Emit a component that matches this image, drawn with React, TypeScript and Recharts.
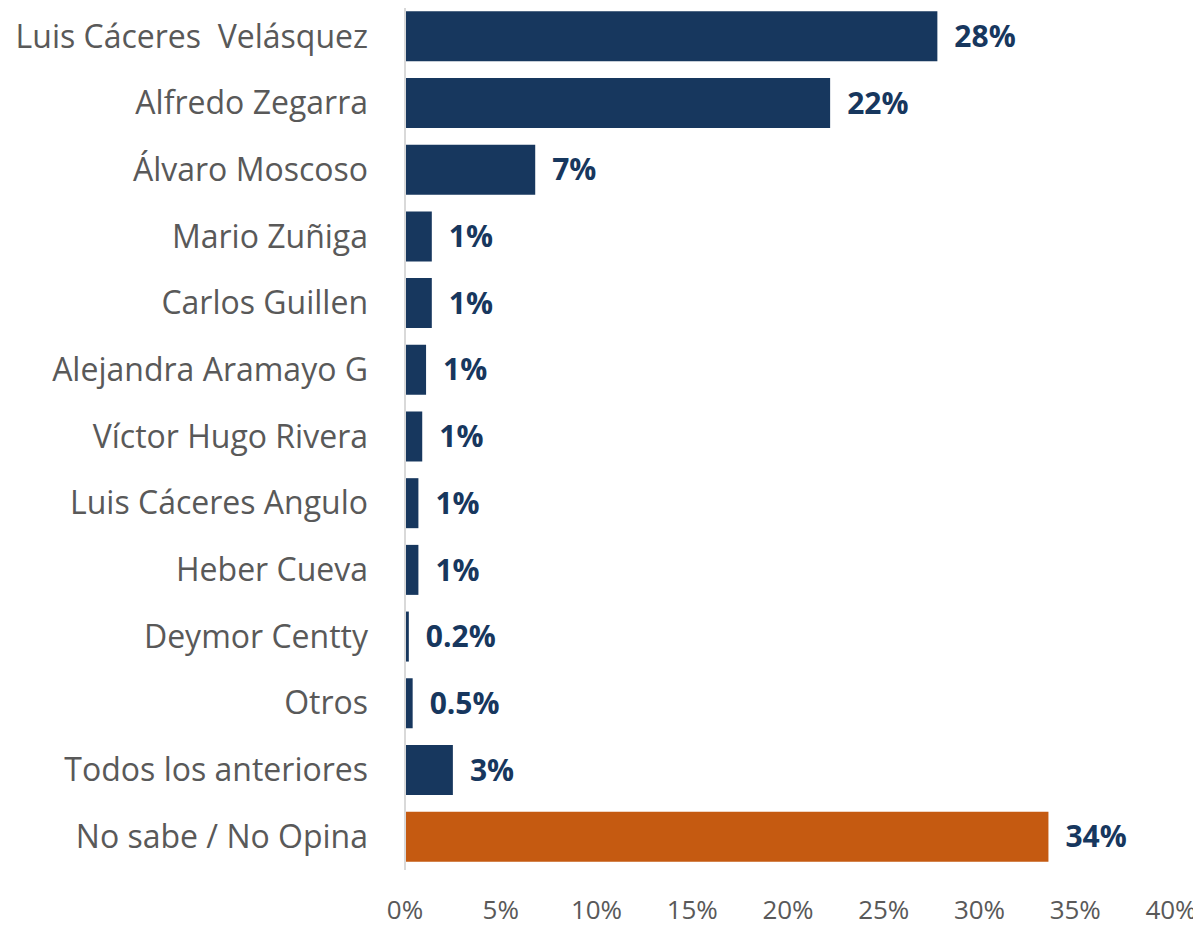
import { Bar, BarChart, Cell, LabelList, XAxis, YAxis } from "recharts";

const candidates = [
  "Luis Cáceres  Velásquez",
  "Alfredo Zegarra",
  "Álvaro Moscoso",
  "Mario Zuñiga",
  "Carlos Guillen",
  "Alejandra Aramayo G",
  "Víctor Hugo Rivera",
  "Luis Cáceres Angulo",
  "Heber Cueva",
  "Deymor Centty",
  "Otros",
  "Todos los anteriores",
  "No sabe / No Opina",
];

const shares = [27.8, 22.2, 6.8, 1.4, 1.4, 1.1, 0.9, 0.7, 0.7, 0.2, 0.4, 2.5, 33.6];

const shareLabels = ["28%", "22%", "7%", "1%", "1%", "1%", "1%", "1%", "1%", "0.2%", "0.5%", "3%", "34%"];

const xTicks = [0, 5, 10, 15, 20, 25, 30, 35, 40];

const colors = {
  navy: "#17375E",
  orange: "#C55A11",
  gray: "#595959",
  axis: "#D9D9D9",
};

const font = "'Open Sans', sans-serif";

const CandidateTick = (props: any) => {
  const { x, y, payload } = props;
  return (
    <text
      x={x}
      y={y}
      dy="0.35em"
      textAnchor="end"
      fill={colors.gray}
      fontSize={32}
      fontFamily={font}
      style={{ whiteSpace: "pre" }}
    >
      {payload.value}
    </text>
  );
};

export default function App() {
  const data = candidates.map((name, i) => ({
    name,
    value: shares[i],
    label: shareLabels[i],
  }));

  return (
    <div style={{ margin: -8 }}>
      <BarChart
        layout="vertical"
        width={1201}
        height={928}
        data={data}
        margin={{ top: 3, right: 30, bottom: 0, left: 0 }}
        barCategoryGap="12.5%"
      >
        <XAxis
          type="number"
          domain={[0, 40]}
          ticks={xTicks}
          tickFormatter={(v) => `${v}%`}
          axisLine={false}
          tickLine={false}
          tickSize={0}
          tickMargin={31}
          height={58}
          interval={0}
          tick={{ fill: colors.gray, fontSize: 26, fontFamily: font }}
        />
        <YAxis
          type="category"
          dataKey="name"
          width={405}
          axisLine={{ stroke: colors.axis, strokeWidth: 2 }}
          tickLine={false}
          tickSize={0}
          tickMargin={37}
          interval={0}
          tick={<CandidateTick />}
        />
        <Bar dataKey="value" isAnimationActive={false}>
          {data.map((d, i) => (
            <Cell key={d.name} fill={i === data.length - 1 ? colors.orange : colors.navy} />
          ))}
          <LabelList
            dataKey="label"
            position="right"
            offset={17}
            fill={colors.navy}
            fontSize={30}
            fontWeight="bold"
            fontFamily={font}
          />
        </Bar>
      </BarChart>
    </div>
  );
}
